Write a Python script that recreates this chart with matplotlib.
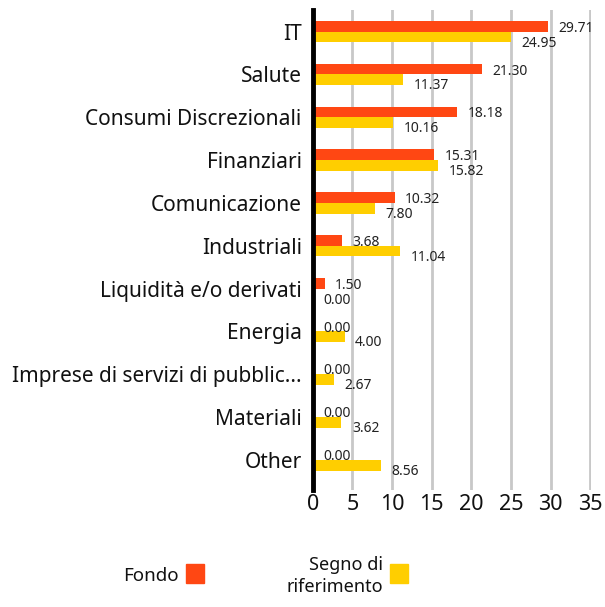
import matplotlib.pyplot as plt
from matplotlib.patches import Rectangle
import numpy as np

categories = ["IT", "Salute", "Consumi Discrezionali", "Finanziari", "Comunicazione",
              "Industriali", "Liquidità e/o derivati", "Energia",
              "Imprese di servizi di pubblic...", "Materiali", "Other"]
fondo = [29.71, 21.30, 18.18, 15.31, 10.32, 3.68, 1.50, 0.00, 0.00, 0.00, 0.00]
riferimento = [24.95, 11.37, 10.16, 15.82, 7.80, 11.04, 0.00, 4.00, 2.67, 3.62, 8.56]
xticks = [0, 5, 10, 15, 20, 25, 30, 35]

RED = "#FF4713"
YEL = "#FFCE00"

plt.rcParams["font.family"] = ["Noto Sans", "DejaVu Sans"]

fig = plt.figure(figsize=(6.05, 6.07), dpi=100)
ax = fig.add_axes([0.517, 0.193, 0.46, 0.791])

y = np.arange(len(categories))
h = 0.25
ax.barh(y - h / 2, fondo, height=h, color=RED, zorder=3)
ax.barh(y + h / 2, riferimento, height=h, color=YEL, zorder=3)

for yi, v in zip(y, fondo):
    ax.annotate(f"{v:.2f}", (v, yi - h / 2), xytext=(7.5, -1.5), textcoords="offset points",
                va="center", ha="left", fontsize=10, color="#222222")
for yi, v in zip(y, riferimento):
    ax.annotate(f"{v:.2f}", (v, yi + h / 2), xytext=(7.5, -4.5), textcoords="offset points",
                va="center", ha="left", fontsize=10, color="#222222")

ax.set_xlim(0, 35.1)
ax.set_ylim(10.7, -0.51)
ax.set_xticks(xticks)
ax.set_yticks(y)
ax.set_yticklabels(categories, fontsize=15, color="#111111")
ax.tick_params(axis="x", length=0, labelsize=15.5, pad=3, labelcolor="#111111")
ax.tick_params(axis="y", length=0, pad=8)
ax.grid(axis="x", color="#c8c8c8", linewidth=2, zorder=0)
for s in ["top", "right", "bottom"]:
    ax.spines[s].set_visible(False)
ax.spines["left"].set_linewidth(3.5)
ax.spines["left"].set_color("black")
ax.spines["left"].set_zorder(5)

# legend
fig.text(179 / 605, 1 - 576 / 607, "Fondo", ha="right", va="center", fontsize=13.5, color="#111111")
fig.patches.append(Rectangle((186 / 605, 1 - 583 / 607), 18 / 605, 19 / 607,
                             transform=fig.transFigure, color=RED))
fig.text(383 / 605, 1 - 576 / 607, "Segno di\nriferimento", ha="right", va="center",
         fontsize=13, color="#111111", linespacing=1.3, multialignment="right")
fig.patches.append(Rectangle((390 / 605, 1 - 583 / 607), 18 / 605, 19 / 607,
                             transform=fig.transFigure, color=YEL))

fig.savefig("out.png", dpi=100)
